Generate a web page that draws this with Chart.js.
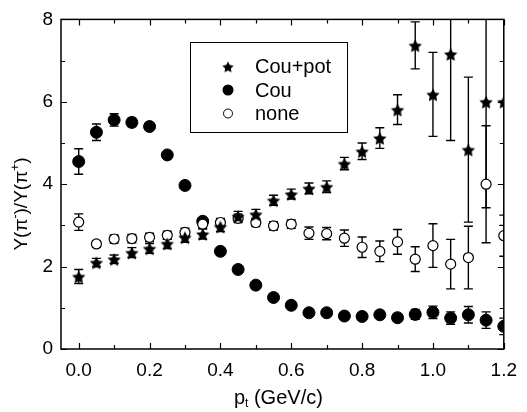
<!DOCTYPE html>
<html>
<head>
<meta charset="utf-8">
<script src="https://cdn.jsdelivr.net/npm/chart.js@4.4.0/dist/chart.umd.min.js"></script>
<style>
  html, body { margin: 0; padding: 0; background: #fff; }
</style>
</head>
<body>
<canvas id="myChart" width="527" height="412"></canvas>
<script>
// p_t values (GeV/c)
const pt = [0.0, 0.05, 0.1, 0.15, 0.2, 0.25, 0.3, 0.35, 0.4, 0.45, 0.5, 0.55, 0.6,
            0.65, 0.7, 0.75, 0.8, 0.85, 0.9, 0.95, 1.0, 1.05, 1.1, 1.15, 1.2];

// Cou+pot (stars)
const couPot    = [1.76, 2.10, 2.18, 2.34, 2.44, 2.56, 2.71, 2.79, 2.97, 3.22, 3.27, 3.61, 3.76,
                   3.90, 3.94, 4.50, 4.80, 5.12, 5.81, 7.37, 6.18, 7.16, 4.84, 6.00, 6.00];
const couPotErr = [0.17, 0.10, 0.10, 0.12, 0.12, 0.12, 0.12, 0.12, 0.12, 0.12, 0.12, 0.12, 0.12,
                   0.13, 0.14, 0.15, 0.20, 0.25, 0.36, 0.57, 1.02, 2.10, 1.76, 2.57, 3.00];

// Cou (filled circles)
const cou    = [4.55, 5.26, 5.56, 5.50, 5.40, 4.71, 3.97, 3.10, 2.37, 1.93, 1.55, 1.25, 1.06,
                0.88, 0.88, 0.80, 0.79, 0.83, 0.76, 0.84, 0.89, 0.75, 0.83, 0.70, 0.55];
const couErr = [0.31, 0.20, 0.15, 0.10, 0.08, 0.06, 0.06, 0.06, 0.06, 0.06, 0.06, 0.06, 0.06,
                0.06, 0.06, 0.06, 0.06, 0.08, 0.08, 0.12, 0.15, 0.15, 0.20, 0.20, 0.20];

// none (open circles)
const none    = [3.08, 2.55, 2.67, 2.68, 2.71, 2.76, 2.83, 3.03, 3.07, 3.17, 3.07, 2.99, 3.03,
                 2.81, 2.80, 2.69, 2.47, 2.37, 2.60, 2.18, 2.51, 2.06, 2.22, 4.00, 2.75];
const noneErr = [0.20, 0.08, 0.10, 0.10, 0.10, 0.10, 0.10, 0.10, 0.10, 0.10, 0.10, 0.10, 0.10,
                 0.15, 0.15, 0.20, 0.25, 0.25, 0.30, 0.30, 0.53, 0.60, 0.76, 1.42, 0.50];

const xTicks = [0.0, 0.2, 0.4, 0.6, 0.8, 1.0, 1.2];
const xMinor = [0.1, 0.3, 0.5, 0.7, 0.9, 1.1];
const yTicks = [0, 2, 4, 6, 8];
const yMinor = [1, 3, 5, 7];

const FONT = "'Liberation Sans', Arial, sans-serif";

let makeStar = (r) => {
  let c = document.createElement('canvas');
  let s = Math.ceil(r * 2) + 2;
  c.width = s; c.height = s;
  let g = c.getContext('2d');
  g.beginPath();
  for (let i = 0; i < 10; i++) {
    let rad = i % 2 === 0 ? r : r * 0.5;
    let a = -Math.PI / 2 + i * Math.PI / 5;
    g.lineTo(s / 2 + rad * Math.cos(a), s / 2 + 1 + rad * Math.sin(a));
  }
  g.closePath();
  g.fillStyle = '#000';
  g.fill();
  return c;
};

const starBig = makeStar(7);
const starSmall = makeStar(6);

let toPoints = (vals, errs) => pt.map((x, i) => ({ x: x, y: vals[i], err: errs[i] }));

// error bars under the markers
const errorBars = {
  id: 'errorBars',
  beforeDatasetsDraw(chart) {
    const { ctx, chartArea, scales: { x, y } } = chart;
    ctx.save();
    ctx.beginPath();
    ctx.rect(chartArea.left, chartArea.top, chartArea.width, chartArea.height);
    ctx.clip();
    ctx.strokeStyle = '#000';
    ctx.lineWidth = 1.4;
    chart.data.datasets.forEach((ds) => {
      ds.data.forEach((p) => {
        let px = x.getPixelForValue(p.x);
        let top = y.getPixelForValue(p.y + p.err);
        let bot = y.getPixelForValue(p.y - p.err);
        ctx.beginPath();
        ctx.moveTo(px, top); ctx.lineTo(px, bot);
        ctx.moveTo(px - 4.5, top); ctx.lineTo(px + 4.5, top);
        ctx.moveTo(px - 4.5, bot); ctx.lineTo(px + 4.5, bot);
        ctx.stroke();
      });
    });
    ctx.restore();
  }
};

// frame, inward ticks, axis titles, legend box
const frame = {
  id: 'frame',
  afterDraw(chart) {
    const { ctx, chartArea: a, scales: { x, y } } = chart;
    ctx.save();
    ctx.strokeStyle = '#000';
    ctx.lineWidth = 1.5;
    ctx.strokeRect(a.left, a.top, a.width, a.height);

    ctx.lineWidth = 1.2;
    ctx.beginPath();
    let tx = (v, len) => {
      let px = Math.round(x.getPixelForValue(v)) + 0.5;
      ctx.moveTo(px, a.bottom); ctx.lineTo(px, a.bottom - len);
      ctx.moveTo(px, a.top); ctx.lineTo(px, a.top + len);
    };
    let ty = (v, len) => {
      let py = Math.round(y.getPixelForValue(v)) + 0.5;
      ctx.moveTo(a.left, py); ctx.lineTo(a.left + len, py);
      ctx.moveTo(a.right, py); ctx.lineTo(a.right - len, py);
    };
    xTicks.forEach(v => tx(v, 6));
    xMinor.forEach(v => tx(v, 4));
    yTicks.forEach(v => ty(v, 6));
    yMinor.forEach(v => ty(v, 4));
    ctx.stroke();

    // x title: p_t (GeV/c)
    ctx.fillStyle = '#000';
    ctx.textBaseline = 'alphabetic';
    let f = 20;
    ctx.font = f + 'px ' + FONT;
    let w1 = ctx.measureText('p').width;
    ctx.font = '12px ' + FONT;
    let w2 = ctx.measureText('t').width;
    ctx.font = f + 'px ' + FONT;
    let w3 = ctx.measureText(' (GeV/c)').width;
    let sx = (a.left + a.right) / 2 - 4 - (w1 + w2 + w3) / 2;
    let by = 404;
    ctx.textAlign = 'left';
    ctx.fillText('p', sx, by);
    ctx.font = '12px ' + FONT;
    ctx.fillText('t', sx + w1, by + 3);
    ctx.font = f + 'px ' + FONT;
    ctx.fillText(' (GeV/c)', sx + w1 + w2, by);

    // y title: Y(pi-)/Y(pi+)
    ctx.save();
    ctx.translate(27, 204);
    ctx.rotate(-Math.PI / 2);
    let parts = [['Y(\u03c0', 19, 0], ['-', 12, -8], [')/Y(\u03c0', 19, 0], ['+', 12, -8], [')', 19, 0]];
    let total = 0;
    parts.forEach(p => { ctx.font = p[1] + 'px ' + FONT; total += ctx.measureText(p[0]).width; });
    let cx = -total / 2;
    parts.forEach(p => {
      ctx.font = p[1] + 'px ' + FONT;
      ctx.fillText(p[0], cx, p[2]);
      cx += ctx.measureText(p[0]).width;
    });
    ctx.restore();

    // legend
    ctx.lineWidth = 1;
    ctx.strokeRect(190.5, 42.5, 157, 90);
    let rows = [66.5, 90, 113.5];
    ctx.font = '20px ' + FONT;
    ctx.textBaseline = 'middle';
    chart.data.datasets.forEach((ds, i) => {
      let yy = rows[i];
      if (ds.kind === 'star') {
        ctx.drawImage(starSmall, 228 - starSmall.width / 2, yy - starSmall.height / 2);
      } else {
        ctx.beginPath();
        ctx.arc(228, yy, ds.kind === 'filled' ? 5.5 : 4.5, 0, Math.PI * 2);
        if (ds.kind === 'filled') { ctx.fillStyle = '#000'; ctx.fill(); }
        else { ctx.fillStyle = '#fff'; ctx.fill(); ctx.strokeStyle = '#000'; ctx.stroke(); }
      }
      ctx.fillStyle = '#000';
      ctx.fillText(ds.label, 255, yy + 1);
    });
    ctx.restore();
  }
};

new Chart(document.getElementById('myChart'), {
  type: 'scatter',
  data: {
    datasets: [
      {
        label: 'Cou+pot', kind: 'star', order: 0,
        data: toPoints(couPot, couPotErr),
        pointStyle: starBig, pointRadius: 7
      },
      {
        label: 'Cou', kind: 'filled', order: 2,
        data: toPoints(cou, couErr),
        pointStyle: 'circle', pointRadius: 6,
        backgroundColor: '#000', borderColor: '#000', borderWidth: 1
      },
      {
        label: 'none', kind: 'open', order: 1,
        data: toPoints(none, noneErr),
        pointStyle: 'circle', pointRadius: 5,
        backgroundColor: '#fff', borderColor: '#000', borderWidth: 1.2
      }
    ]
  },
  options: {
    responsive: false,
    animation: false,
    events: [],
    layout: { padding: { top: 17, right: 16, left: 0, bottom: 0 } },
    plugins: { legend: { display: false }, tooltip: { enabled: false } },
    scales: {
      x: {
        type: 'linear', min: -0.05, max: 1.2,
        grid: { display: false, drawTicks: false },
        border: { display: false },
        afterBuildTicks: (s) => { s.ticks = xTicks.map(v => ({ value: v })); },
        afterFit: (s) => { s.height = 63; },
        ticks: {
          padding: 10, color: '#000', maxRotation: 0, autoSkip: false,
          font: { family: FONT, size: 19 },
          callback: (v) => Number(v).toFixed(1)
        }
      },
      y: {
        type: 'linear', min: 0, max: 8,
        grid: { display: false, drawTicks: false },
        border: { display: false },
        afterBuildTicks: (s) => { s.ticks = yTicks.map(v => ({ value: v })); },
        afterFit: (s) => { s.width = 61; },
        ticks: {
          padding: 8, color: '#000',
          font: { family: FONT, size: 19 },
          callback: (v) => String(v)
        }
      }
    }
  },
  plugins: [errorBars, frame]
});
</script>
</body>
</html>
